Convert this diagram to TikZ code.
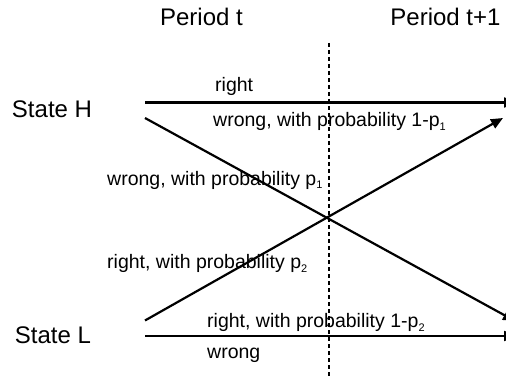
\documentclass[tikz,border=0pt]{standalone}
\usepackage{fontspec}
\setmainfont{Liberation Sans}
\usetikzlibrary{arrows.meta}
\newcommand{\lowsub}[1]{\raisebox{-4pt}{\fontsize{11}{11}\selectfont #1}}

\begin{document}
\begin{tikzpicture}[
		x=1pt, y=-1pt,
		>={Triangle[length=12pt,width=10pt]},
		head/.style={anchor=base, inner sep=0pt, font=\fontsize{24}{28}\selectfont},
		lbl/.style={anchor=base west, inner sep=0pt, font=\fontsize{19.5}{23}\selectfont},
		move/.style={->, line width=2.2pt},
		divider/.style={line width=1.5pt, dash pattern=on 4pt off 3pt}
		]
		\useasboundingbox (0,0) rectangle (506,377);
		\clip (0,0) rectangle (506,377);
		
		\node[head] (pert) at (201.5,26) {Period t};
		\node[head] (pernext) at (445.5,26) {Period t+1};
		\node[head] (stateh) at (52,118) {State H};
		\node[head] (statel) at (53,343) {State L};
		
		% ends of the moves
		\coordinate (hstay) at (145,102.5);
		\coordinate (hstayend) at (516,102.5);
		\coordinate (hdown) at (145,118);
		\coordinate (hdownend) at (515,321);
		\coordinate (lup) at (145,320.5);
		\coordinate (lupend) at (503,118);
		\coordinate (lstay) at (145,336);
		\coordinate (lstayend) at (516,336);
		\coordinate (dtop) at (329,43);
		\coordinate (dbot) at (329,380);
		
		\draw[divider] (dtop) -- (dbot);
		\draw[move] (hstay) -- (hstayend);
		\draw[move] (hdown) -- (hdownend);
		\draw[move] (lup) -- (lupend);
		\draw[move] (lstay) -- (lstayend);
		
		\node[lbl] (hright) at (215,92) {right};
		\node[lbl] (hwrong) at (213,127) {wrong, with probability 1-p\lowsub{1}};
		\node[lbl] (hcross) at (107,185) {wrong, with probability p\lowsub{1}};
		\node[lbl] (lcross) at (107,268) {right, with probability p\lowsub{2}};
		\node[lbl] (lright) at (207,327) {right, with probability 1-p\lowsub{2}};
		\node[lbl] (lwrong) at (207,358) {wrong};
\end{tikzpicture}
\end{document}
